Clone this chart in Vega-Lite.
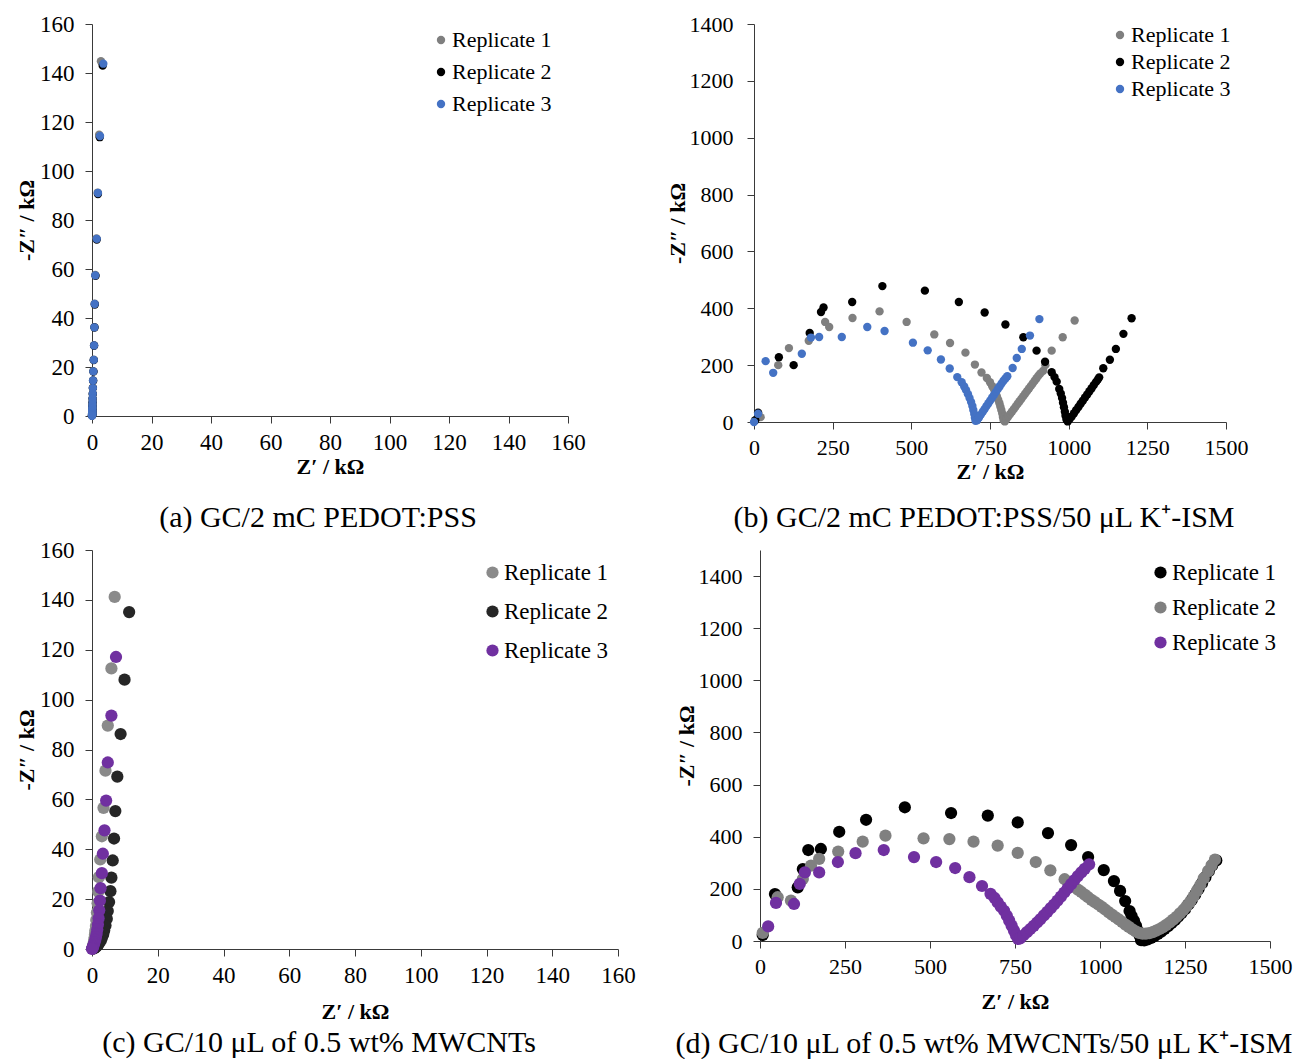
{
  "$schema": "https://vega.github.io/schema/vega-lite/v6.json",
  "background": "white",
  "padding": {"left": 15, "top": 13, "right": 2, "bottom": 0},
  "config": {
    "font": "Liberation Serif",
    "view": {"stroke": null},
    "axis": {
      "grid": false,
      "domainColor": "#3a3a3a",
      "tickColor": "#3a3a3a",
      "labelColor": "#000000",
      "titleColor": "#000000",
      "labelFont": "Liberation Serif",
      "titleFont": "Liberation Serif",
      "labelFontSize": 22,
      "titleFontSize": 22,
      "titleFontWeight": "bold",
      "tickSize": 7,
      "format": "d",
      "labelFlush": false,
      "labelOverlap": false
    },
    "legend": {
      "labelFont": "Liberation Serif",
      "labelColor": "#000000",
      "symbolType": "circle",
      "symbolStrokeWidth": 0
    },
    "title": {"font": "Liberation Serif", "color": "#000000", "fontWeight": "normal"}
  },
  "datasets": {
    "pa": [
      {"r": "Replicate 1", "x": 3.0, "y": 144.8}, {"r": "Replicate 1", "x": 2.4, "y": 114.8}, {"r": "Replicate 1", "x": 1.9, "y": 91.2}, {"r": "Replicate 1", "x": 1.5, "y": 72.5}, {"r": "Replicate 1", "x": 1.1, "y": 57.6}, {"r": "Replicate 1", "x": 0.9, "y": 45.8}, {"r": "Replicate 1", "x": 0.8, "y": 36.3}, {"r": "Replicate 1", "x": 0.7, "y": 28.9}, {"r": "Replicate 1", "x": 0.6, "y": 23.0}, {"r": "Replicate 1", "x": 0.45, "y": 18.3}, {"r": "Replicate 1", "x": 0.35, "y": 14.5}, {"r": "Replicate 1", "x": 0.3, "y": 11.5}, {"r": "Replicate 1", "x": 0.25, "y": 9.1}, {"r": "Replicate 1", "x": 0.2, "y": 7.2}, {"r": "Replicate 1", "x": 0.2, "y": 5.7}, {"r": "Replicate 1", "x": 0.15, "y": 4.5}, {"r": "Replicate 1", "x": 0.15, "y": 3.6}, {"r": "Replicate 1", "x": 0.1, "y": 2.8}, {"r": "Replicate 1", "x": 0.1, "y": 2.2}, {"r": "Replicate 1", "x": 0.1, "y": 1.7}, {"r": "Replicate 1", "x": 0.1, "y": 1.3}, {"r": "Replicate 1", "x": 0.05, "y": 1.0}, {"r": "Replicate 1", "x": 0.05, "y": 0.7}, {"r": "Replicate 1", "x": 0.05, "y": 0.5}, {"r": "Replicate 1", "x": 0.03, "y": 0.3}, {"r": "Replicate 1", "x": 0.02, "y": 0.15},
      {"r": "Replicate 2", "x": 3.6, "y": 143.0}, {"r": "Replicate 2", "x": 2.6, "y": 113.8}, {"r": "Replicate 2", "x": 2.0, "y": 90.6}, {"r": "Replicate 2", "x": 1.6, "y": 72.0}, {"r": "Replicate 2", "x": 1.2, "y": 57.2}, {"r": "Replicate 2", "x": 0.95, "y": 45.5}, {"r": "Replicate 2", "x": 0.85, "y": 36.1}, {"r": "Replicate 2", "x": 0.7, "y": 28.7}, {"r": "Replicate 2", "x": 0.6, "y": 22.8}, {"r": "Replicate 2", "x": 0.5, "y": 18.1}, {"r": "Replicate 2", "x": 0.4, "y": 14.4}, {"r": "Replicate 2", "x": 0.3, "y": 11.4}, {"r": "Replicate 2", "x": 0.25, "y": 9.0}, {"r": "Replicate 2", "x": 0.2, "y": 7.1}, {"r": "Replicate 2", "x": 0.2, "y": 5.6}, {"r": "Replicate 2", "x": 0.15, "y": 4.4}, {"r": "Replicate 2", "x": 0.15, "y": 3.5}, {"r": "Replicate 2", "x": 0.1, "y": 2.8}, {"r": "Replicate 2", "x": 0.1, "y": 2.2}, {"r": "Replicate 2", "x": 0.1, "y": 1.7}, {"r": "Replicate 2", "x": 0.1, "y": 1.3}, {"r": "Replicate 2", "x": 0.05, "y": 1.0}, {"r": "Replicate 2", "x": 0.05, "y": 0.7}, {"r": "Replicate 2", "x": 0.05, "y": 0.5}, {"r": "Replicate 2", "x": 0.03, "y": 0.3}, {"r": "Replicate 2", "x": 0.02, "y": 0.15},
      {"r": "Replicate 3", "x": 3.8, "y": 143.8}, {"r": "Replicate 3", "x": 2.7, "y": 114.3}, {"r": "Replicate 3", "x": 2.0, "y": 91.0}, {"r": "Replicate 3", "x": 1.6, "y": 72.3}, {"r": "Replicate 3", "x": 1.1, "y": 57.4}, {"r": "Replicate 3", "x": 0.9, "y": 45.7}, {"r": "Replicate 3", "x": 0.8, "y": 36.2}, {"r": "Replicate 3", "x": 0.7, "y": 28.8}, {"r": "Replicate 3", "x": 0.6, "y": 22.9}, {"r": "Replicate 3", "x": 0.45, "y": 18.2}, {"r": "Replicate 3", "x": 0.35, "y": 14.5}, {"r": "Replicate 3", "x": 0.3, "y": 11.4}, {"r": "Replicate 3", "x": 0.25, "y": 9.1}, {"r": "Replicate 3", "x": 0.2, "y": 7.2}, {"r": "Replicate 3", "x": 0.2, "y": 5.7}, {"r": "Replicate 3", "x": 0.15, "y": 4.5}, {"r": "Replicate 3", "x": 0.15, "y": 3.6}, {"r": "Replicate 3", "x": 0.1, "y": 2.9}, {"r": "Replicate 3", "x": 0.1, "y": 2.3}, {"r": "Replicate 3", "x": 0.1, "y": 1.8}, {"r": "Replicate 3", "x": 0.1, "y": 1.4}, {"r": "Replicate 3", "x": 0.05, "y": 1.1}, {"r": "Replicate 3", "x": 0.05, "y": 0.9}, {"r": "Replicate 3", "x": 0.05, "y": 0.7}, {"r": "Replicate 3", "x": 0.05, "y": 0.5}, {"r": "Replicate 3", "x": 0.03, "y": 0.35}, {"r": "Replicate 3", "x": 0.02, "y": 0.2}, {"r": "Replicate 3", "x": 0.0, "y": 0.1}
    ],
    "pb": [
      {"r": "Replicate 1", "x": 21, "y": 17}, {"r": "Replicate 1", "x": 77, "y": 200}, {"r": "Replicate 1", "x": 111, "y": 260}, {"r": "Replicate 1", "x": 174, "y": 286}, {"r": "Replicate 1", "x": 226, "y": 352}, {"r": "Replicate 1", "x": 239, "y": 334}, {"r": "Replicate 1", "x": 313, "y": 366}, {"r": "Replicate 1", "x": 399, "y": 389}, {"r": "Replicate 1", "x": 485, "y": 352}, {"r": "Replicate 1", "x": 573, "y": 308}, {"r": "Replicate 1", "x": 623, "y": 278}, {"r": "Replicate 1", "x": 672, "y": 244}, {"r": "Replicate 1", "x": 702, "y": 202}, {"r": "Replicate 1", "x": 723, "y": 174}, {"r": "Replicate 1", "x": 740, "y": 155}, {"r": "Replicate 1", "x": 750, "y": 140}, {"r": "Replicate 1", "x": 757, "y": 126}, {"r": "Replicate 1", "x": 763, "y": 114}, {"r": "Replicate 1", "x": 768, "y": 102}, {"r": "Replicate 1", "x": 772, "y": 90}, {"r": "Replicate 1", "x": 776, "y": 78}, {"r": "Replicate 1", "x": 780, "y": 66}, {"r": "Replicate 1", "x": 783, "y": 54}, {"r": "Replicate 1", "x": 786, "y": 42}, {"r": "Replicate 1", "x": 789, "y": 30}, {"r": "Replicate 1", "x": 791, "y": 18}, {"r": "Replicate 1", "x": 793, "y": 7}, {"r": "Replicate 1", "x": 797, "y": 2}, {"r": "Replicate 1", "x": 802, "y": 10}, {"r": "Replicate 1", "x": 808, "y": 19}, {"r": "Replicate 1", "x": 814, "y": 28}, {"r": "Replicate 1", "x": 820, "y": 37}, {"r": "Replicate 1", "x": 826, "y": 46}, {"r": "Replicate 1", "x": 832, "y": 55}, {"r": "Replicate 1", "x": 838, "y": 64}, {"r": "Replicate 1", "x": 844, "y": 73}, {"r": "Replicate 1", "x": 850, "y": 82}, {"r": "Replicate 1", "x": 856, "y": 91}, {"r": "Replicate 1", "x": 862, "y": 100}, {"r": "Replicate 1", "x": 868, "y": 109}, {"r": "Replicate 1", "x": 874, "y": 118}, {"r": "Replicate 1", "x": 880, "y": 127}, {"r": "Replicate 1", "x": 886, "y": 136}, {"r": "Replicate 1", "x": 892, "y": 145}, {"r": "Replicate 1", "x": 898, "y": 154}, {"r": "Replicate 1", "x": 904, "y": 163}, {"r": "Replicate 1", "x": 910, "y": 171}, {"r": "Replicate 1", "x": 919, "y": 180}, {"r": "Replicate 1", "x": 926, "y": 200}, {"r": "Replicate 1", "x": 946, "y": 251}, {"r": "Replicate 1", "x": 981, "y": 298}, {"r": "Replicate 1", "x": 1019, "y": 357},
      {"r": "Replicate 2", "x": 4, "y": 6}, {"r": "Replicate 2", "x": 13, "y": 33}, {"r": "Replicate 2", "x": 79, "y": 228}, {"r": "Replicate 2", "x": 126, "y": 200}, {"r": "Replicate 2", "x": 177, "y": 313}, {"r": "Replicate 2", "x": 213, "y": 387}, {"r": "Replicate 2", "x": 221, "y": 403}, {"r": "Replicate 2", "x": 312, "y": 422}, {"r": "Replicate 2", "x": 408, "y": 478}, {"r": "Replicate 2", "x": 543, "y": 462}, {"r": "Replicate 2", "x": 651, "y": 422}, {"r": "Replicate 2", "x": 733, "y": 385}, {"r": "Replicate 2", "x": 799, "y": 343}, {"r": "Replicate 2", "x": 856, "y": 298}, {"r": "Replicate 2", "x": 898, "y": 251}, {"r": "Replicate 2", "x": 925, "y": 212}, {"r": "Replicate 2", "x": 946, "y": 175}, {"r": "Replicate 2", "x": 955, "y": 158}, {"r": "Replicate 2", "x": 962, "y": 142}, {"r": "Replicate 2", "x": 970, "y": 116}, {"r": "Replicate 2", "x": 975, "y": 100}, {"r": "Replicate 2", "x": 979, "y": 84}, {"r": "Replicate 2", "x": 982, "y": 68}, {"r": "Replicate 2", "x": 985, "y": 52}, {"r": "Replicate 2", "x": 988, "y": 36}, {"r": "Replicate 2", "x": 990, "y": 22}, {"r": "Replicate 2", "x": 993, "y": 9}, {"r": "Replicate 2", "x": 997, "y": 2}, {"r": "Replicate 2", "x": 1003, "y": 10}, {"r": "Replicate 2", "x": 1010, "y": 20}, {"r": "Replicate 2", "x": 1017, "y": 31}, {"r": "Replicate 2", "x": 1024, "y": 42}, {"r": "Replicate 2", "x": 1031, "y": 53}, {"r": "Replicate 2", "x": 1038, "y": 64}, {"r": "Replicate 2", "x": 1045, "y": 75}, {"r": "Replicate 2", "x": 1052, "y": 86}, {"r": "Replicate 2", "x": 1059, "y": 97}, {"r": "Replicate 2", "x": 1066, "y": 108}, {"r": "Replicate 2", "x": 1073, "y": 119}, {"r": "Replicate 2", "x": 1080, "y": 130}, {"r": "Replicate 2", "x": 1087, "y": 141}, {"r": "Replicate 2", "x": 1093, "y": 150}, {"r": "Replicate 2", "x": 1097, "y": 157}, {"r": "Replicate 2", "x": 1110, "y": 189}, {"r": "Replicate 2", "x": 1131, "y": 219}, {"r": "Replicate 2", "x": 1150, "y": 257}, {"r": "Replicate 2", "x": 1174, "y": 310}, {"r": "Replicate 2", "x": 1200, "y": 365},
      {"r": "Replicate 3", "x": 0, "y": 0}, {"r": "Replicate 3", "x": 13, "y": 29}, {"r": "Replicate 3", "x": 37, "y": 214}, {"r": "Replicate 3", "x": 61, "y": 173}, {"r": "Replicate 3", "x": 152, "y": 240}, {"r": "Replicate 3", "x": 181, "y": 297}, {"r": "Replicate 3", "x": 207, "y": 299}, {"r": "Replicate 3", "x": 279, "y": 299}, {"r": "Replicate 3", "x": 360, "y": 334}, {"r": "Replicate 3", "x": 415, "y": 320}, {"r": "Replicate 3", "x": 505, "y": 279}, {"r": "Replicate 3", "x": 552, "y": 252}, {"r": "Replicate 3", "x": 594, "y": 220}, {"r": "Replicate 3", "x": 622, "y": 188}, {"r": "Replicate 3", "x": 646, "y": 158}, {"r": "Replicate 3", "x": 660, "y": 140}, {"r": "Replicate 3", "x": 668, "y": 125}, {"r": "Replicate 3", "x": 674, "y": 112}, {"r": "Replicate 3", "x": 680, "y": 98}, {"r": "Replicate 3", "x": 685, "y": 84}, {"r": "Replicate 3", "x": 690, "y": 70}, {"r": "Replicate 3", "x": 694, "y": 56}, {"r": "Replicate 3", "x": 697, "y": 42}, {"r": "Replicate 3", "x": 700, "y": 28}, {"r": "Replicate 3", "x": 702, "y": 15}, {"r": "Replicate 3", "x": 704, "y": 4}, {"r": "Replicate 3", "x": 709, "y": 6}, {"r": "Replicate 3", "x": 715, "y": 16}, {"r": "Replicate 3", "x": 721, "y": 26}, {"r": "Replicate 3", "x": 727, "y": 36}, {"r": "Replicate 3", "x": 733, "y": 46}, {"r": "Replicate 3", "x": 739, "y": 56}, {"r": "Replicate 3", "x": 745, "y": 66}, {"r": "Replicate 3", "x": 751, "y": 76}, {"r": "Replicate 3", "x": 757, "y": 86}, {"r": "Replicate 3", "x": 763, "y": 96}, {"r": "Replicate 3", "x": 769, "y": 106}, {"r": "Replicate 3", "x": 775, "y": 116}, {"r": "Replicate 3", "x": 781, "y": 126}, {"r": "Replicate 3", "x": 787, "y": 136}, {"r": "Replicate 3", "x": 793, "y": 145}, {"r": "Replicate 3", "x": 799, "y": 153}, {"r": "Replicate 3", "x": 805, "y": 161}, {"r": "Replicate 3", "x": 822, "y": 190}, {"r": "Replicate 3", "x": 835, "y": 225}, {"r": "Replicate 3", "x": 851, "y": 257}, {"r": "Replicate 3", "x": 877, "y": 304}, {"r": "Replicate 3", "x": 907, "y": 362}
    ],
    "pc": [
      {"r": "Replicate 1", "x": 6.9, "y": 141.2}, {"r": "Replicate 1", "x": 5.9, "y": 112.5}, {"r": "Replicate 1", "x": 4.8, "y": 89.6}, {"r": "Replicate 1", "x": 4.1, "y": 71.5}, {"r": "Replicate 1", "x": 3.5, "y": 56.6}, {"r": "Replicate 1", "x": 3.0, "y": 45.2}, {"r": "Replicate 1", "x": 2.5, "y": 35.9}, {"r": "Replicate 1", "x": 2.1, "y": 28.8}, {"r": "Replicate 1", "x": 1.9, "y": 23.0}, {"r": "Replicate 1", "x": 1.7, "y": 18.3}, {"r": "Replicate 1", "x": 1.5, "y": 14.6}, {"r": "Replicate 1", "x": 1.3, "y": 11.6}, {"r": "Replicate 1", "x": 1.2, "y": 9.2}, {"r": "Replicate 1", "x": 1.0, "y": 7.3}, {"r": "Replicate 1", "x": 0.9, "y": 5.8}, {"r": "Replicate 1", "x": 0.8, "y": 4.6}, {"r": "Replicate 1", "x": 0.7, "y": 3.6}, {"r": "Replicate 1", "x": 0.6, "y": 2.8}, {"r": "Replicate 1", "x": 0.5, "y": 2.1}, {"r": "Replicate 1", "x": 0.4, "y": 1.5}, {"r": "Replicate 1", "x": 0.3, "y": 1.0}, {"r": "Replicate 1", "x": 0.2, "y": 0.6}, {"r": "Replicate 1", "x": 0.1, "y": 0.3},
      {"r": "Replicate 2", "x": 11.3, "y": 135.1}, {"r": "Replicate 2", "x": 9.9, "y": 108.0}, {"r": "Replicate 2", "x": 8.7, "y": 86.2}, {"r": "Replicate 2", "x": 7.7, "y": 69.1}, {"r": "Replicate 2", "x": 7.1, "y": 55.3}, {"r": "Replicate 2", "x": 6.7, "y": 44.3}, {"r": "Replicate 2", "x": 6.3, "y": 35.5}, {"r": "Replicate 2", "x": 5.9, "y": 28.6}, {"r": "Replicate 2", "x": 5.6, "y": 23.2}, {"r": "Replicate 2", "x": 5.2, "y": 18.8}, {"r": "Replicate 2", "x": 4.8, "y": 15.2}, {"r": "Replicate 2", "x": 4.5, "y": 12.1}, {"r": "Replicate 2", "x": 4.1, "y": 9.4}, {"r": "Replicate 2", "x": 3.7, "y": 7.4}, {"r": "Replicate 2", "x": 3.4, "y": 5.8}, {"r": "Replicate 2", "x": 3.0, "y": 4.5}, {"r": "Replicate 2", "x": 2.7, "y": 3.5}, {"r": "Replicate 2", "x": 2.3, "y": 2.7}, {"r": "Replicate 2", "x": 2.0, "y": 2.0}, {"r": "Replicate 2", "x": 1.7, "y": 1.5}, {"r": "Replicate 2", "x": 1.4, "y": 1.1}, {"r": "Replicate 2", "x": 1.1, "y": 0.7}, {"r": "Replicate 2", "x": 0.8, "y": 0.4}, {"r": "Replicate 2", "x": 0.5, "y": 0.2},
      {"r": "Replicate 3", "x": 7.3, "y": 117.1}, {"r": "Replicate 3", "x": 5.9, "y": 93.6}, {"r": "Replicate 3", "x": 4.8, "y": 74.8}, {"r": "Replicate 3", "x": 4.3, "y": 59.5}, {"r": "Replicate 3", "x": 3.8, "y": 47.6}, {"r": "Replicate 3", "x": 3.3, "y": 38.2}, {"r": "Replicate 3", "x": 3.0, "y": 30.4}, {"r": "Replicate 3", "x": 2.6, "y": 24.4}, {"r": "Replicate 3", "x": 2.4, "y": 19.4}, {"r": "Replicate 3", "x": 2.2, "y": 15.5}, {"r": "Replicate 3", "x": 2.0, "y": 12.3}, {"r": "Replicate 3", "x": 1.8, "y": 9.8}, {"r": "Replicate 3", "x": 1.6, "y": 7.8}, {"r": "Replicate 3", "x": 1.4, "y": 6.1}, {"r": "Replicate 3", "x": 1.2, "y": 4.8}, {"r": "Replicate 3", "x": 1.0, "y": 3.7}, {"r": "Replicate 3", "x": 0.8, "y": 2.8}, {"r": "Replicate 3", "x": 0.6, "y": 2.0}, {"r": "Replicate 3", "x": 0.45, "y": 1.4}, {"r": "Replicate 3", "x": 0.3, "y": 0.9}, {"r": "Replicate 3", "x": 0.2, "y": 0.5}, {"r": "Replicate 3", "x": 0.1, "y": 0.2}, {"r": "Replicate 3", "x": 0.0, "y": 0.0}
    ],
    "pd": [
      {"r": "Replicate 1", "x": 8, "y": 23}, {"r": "Replicate 1", "x": 44, "y": 180}, {"r": "Replicate 1", "x": 111, "y": 206}, {"r": "Replicate 1", "x": 126, "y": 276}, {"r": "Replicate 1", "x": 142, "y": 349}, {"r": "Replicate 1", "x": 179, "y": 353}, {"r": "Replicate 1", "x": 233, "y": 419}, {"r": "Replicate 1", "x": 312, "y": 465}, {"r": "Replicate 1", "x": 426, "y": 513}, {"r": "Replicate 1", "x": 562, "y": 491}, {"r": "Replicate 1", "x": 670, "y": 481}, {"r": "Replicate 1", "x": 758, "y": 455}, {"r": "Replicate 1", "x": 847, "y": 414}, {"r": "Replicate 1", "x": 915, "y": 368}, {"r": "Replicate 1", "x": 965, "y": 322}, {"r": "Replicate 1", "x": 1011, "y": 272}, {"r": "Replicate 1", "x": 1041, "y": 230}, {"r": "Replicate 1", "x": 1059, "y": 192}, {"r": "Replicate 1", "x": 1074, "y": 153}, {"r": "Replicate 1", "x": 1087, "y": 115}, {"r": "Replicate 1", "x": 1093, "y": 96}, {"r": "Replicate 1", "x": 1100, "y": 77}, {"r": "Replicate 1", "x": 1106, "y": 58}, {"r": "Replicate 1", "x": 1112, "y": 38}, {"r": "Replicate 1", "x": 1117, "y": 19}, {"r": "Replicate 1", "x": 1121, "y": 3}, {"r": "Replicate 1", "x": 1130, "y": 2}, {"r": "Replicate 1", "x": 1140, "y": 6}, {"r": "Replicate 1", "x": 1150, "y": 12}, {"r": "Replicate 1", "x": 1160, "y": 19}, {"r": "Replicate 1", "x": 1170, "y": 27}, {"r": "Replicate 1", "x": 1180, "y": 36}, {"r": "Replicate 1", "x": 1190, "y": 46}, {"r": "Replicate 1", "x": 1200, "y": 57}, {"r": "Replicate 1", "x": 1210, "y": 68}, {"r": "Replicate 1", "x": 1220, "y": 80}, {"r": "Replicate 1", "x": 1230, "y": 93}, {"r": "Replicate 1", "x": 1240, "y": 107}, {"r": "Replicate 1", "x": 1250, "y": 122}, {"r": "Replicate 1", "x": 1260, "y": 140}, {"r": "Replicate 1", "x": 1270, "y": 158}, {"r": "Replicate 1", "x": 1280, "y": 178}, {"r": "Replicate 1", "x": 1290, "y": 200}, {"r": "Replicate 1", "x": 1300, "y": 222}, {"r": "Replicate 1", "x": 1310, "y": 245}, {"r": "Replicate 1", "x": 1320, "y": 268}, {"r": "Replicate 1", "x": 1330, "y": 290}, {"r": "Replicate 1", "x": 1342, "y": 309},
      {"r": "Replicate 2", "x": 8, "y": 31}, {"r": "Replicate 2", "x": 52, "y": 168}, {"r": "Replicate 2", "x": 91, "y": 155}, {"r": "Replicate 2", "x": 126, "y": 238}, {"r": "Replicate 2", "x": 150, "y": 289}, {"r": "Replicate 2", "x": 174, "y": 315}, {"r": "Replicate 2", "x": 230, "y": 343}, {"r": "Replicate 2", "x": 302, "y": 381}, {"r": "Replicate 2", "x": 369, "y": 404}, {"r": "Replicate 2", "x": 481, "y": 394}, {"r": "Replicate 2", "x": 557, "y": 391}, {"r": "Replicate 2", "x": 628, "y": 381}, {"r": "Replicate 2", "x": 699, "y": 366}, {"r": "Replicate 2", "x": 758, "y": 338}, {"r": "Replicate 2", "x": 811, "y": 303}, {"r": "Replicate 2", "x": 854, "y": 271}, {"r": "Replicate 2", "x": 896, "y": 237}, {"r": "Replicate 2", "x": 905, "y": 228}, {"r": "Replicate 2", "x": 915, "y": 218}, {"r": "Replicate 2", "x": 925, "y": 207}, {"r": "Replicate 2", "x": 935, "y": 197}, {"r": "Replicate 2", "x": 945, "y": 188}, {"r": "Replicate 2", "x": 955, "y": 178}, {"r": "Replicate 2", "x": 965, "y": 168}, {"r": "Replicate 2", "x": 975, "y": 158}, {"r": "Replicate 2", "x": 985, "y": 149}, {"r": "Replicate 2", "x": 995, "y": 140}, {"r": "Replicate 2", "x": 1005, "y": 131}, {"r": "Replicate 2", "x": 1015, "y": 121}, {"r": "Replicate 2", "x": 1025, "y": 111}, {"r": "Replicate 2", "x": 1035, "y": 101}, {"r": "Replicate 2", "x": 1045, "y": 92}, {"r": "Replicate 2", "x": 1055, "y": 83}, {"r": "Replicate 2", "x": 1065, "y": 73}, {"r": "Replicate 2", "x": 1075, "y": 63}, {"r": "Replicate 2", "x": 1085, "y": 54}, {"r": "Replicate 2", "x": 1095, "y": 45}, {"r": "Replicate 2", "x": 1105, "y": 37}, {"r": "Replicate 2", "x": 1115, "y": 31}, {"r": "Replicate 2", "x": 1125, "y": 28}, {"r": "Replicate 2", "x": 1135, "y": 28}, {"r": "Replicate 2", "x": 1145, "y": 30}, {"r": "Replicate 2", "x": 1155, "y": 34}, {"r": "Replicate 2", "x": 1165, "y": 40}, {"r": "Replicate 2", "x": 1175, "y": 46}, {"r": "Replicate 2", "x": 1185, "y": 53}, {"r": "Replicate 2", "x": 1195, "y": 62}, {"r": "Replicate 2", "x": 1205, "y": 71}, {"r": "Replicate 2", "x": 1215, "y": 82}, {"r": "Replicate 2", "x": 1225, "y": 93}, {"r": "Replicate 2", "x": 1235, "y": 106}, {"r": "Replicate 2", "x": 1245, "y": 119}, {"r": "Replicate 2", "x": 1255, "y": 134}, {"r": "Replicate 2", "x": 1265, "y": 150}, {"r": "Replicate 2", "x": 1275, "y": 170}, {"r": "Replicate 2", "x": 1285, "y": 192}, {"r": "Replicate 2", "x": 1295, "y": 215}, {"r": "Replicate 2", "x": 1305, "y": 240}, {"r": "Replicate 2", "x": 1318, "y": 268}, {"r": "Replicate 2", "x": 1328, "y": 290}, {"r": "Replicate 2", "x": 1338, "y": 312},
      {"r": "Replicate 3", "x": 24, "y": 56}, {"r": "Replicate 3", "x": 47, "y": 146}, {"r": "Replicate 3", "x": 100, "y": 142}, {"r": "Replicate 3", "x": 117, "y": 219}, {"r": "Replicate 3", "x": 132, "y": 263}, {"r": "Replicate 3", "x": 174, "y": 263}, {"r": "Replicate 3", "x": 229, "y": 303}, {"r": "Replicate 3", "x": 281, "y": 337}, {"r": "Replicate 3", "x": 364, "y": 349}, {"r": "Replicate 3", "x": 453, "y": 322}, {"r": "Replicate 3", "x": 518, "y": 303}, {"r": "Replicate 3", "x": 574, "y": 280}, {"r": "Replicate 3", "x": 616, "y": 245}, {"r": "Replicate 3", "x": 653, "y": 211}, {"r": "Replicate 3", "x": 678, "y": 181}, {"r": "Replicate 3", "x": 690, "y": 165}, {"r": "Replicate 3", "x": 699, "y": 148}, {"r": "Replicate 3", "x": 708, "y": 132}, {"r": "Replicate 3", "x": 718, "y": 116}, {"r": "Replicate 3", "x": 726, "y": 97}, {"r": "Replicate 3", "x": 733, "y": 78}, {"r": "Replicate 3", "x": 740, "y": 59}, {"r": "Replicate 3", "x": 747, "y": 40}, {"r": "Replicate 3", "x": 753, "y": 22}, {"r": "Replicate 3", "x": 759, "y": 8}, {"r": "Replicate 3", "x": 765, "y": 10}, {"r": "Replicate 3", "x": 775, "y": 22}, {"r": "Replicate 3", "x": 785, "y": 34}, {"r": "Replicate 3", "x": 795, "y": 46}, {"r": "Replicate 3", "x": 805, "y": 58}, {"r": "Replicate 3", "x": 815, "y": 71}, {"r": "Replicate 3", "x": 825, "y": 84}, {"r": "Replicate 3", "x": 835, "y": 98}, {"r": "Replicate 3", "x": 845, "y": 112}, {"r": "Replicate 3", "x": 855, "y": 126}, {"r": "Replicate 3", "x": 865, "y": 140}, {"r": "Replicate 3", "x": 875, "y": 155}, {"r": "Replicate 3", "x": 885, "y": 170}, {"r": "Replicate 3", "x": 895, "y": 186}, {"r": "Replicate 3", "x": 905, "y": 202}, {"r": "Replicate 3", "x": 915, "y": 218}, {"r": "Replicate 3", "x": 925, "y": 234}, {"r": "Replicate 3", "x": 935, "y": 249}, {"r": "Replicate 3", "x": 945, "y": 263}, {"r": "Replicate 3", "x": 955, "y": 277}, {"r": "Replicate 3", "x": 968, "y": 294}
    ]
  },
  "spacing": 6,
  "resolve": {"scale": {"color": "independent"}, "legend": {"color": "independent"}},
  "vconcat": [
    {
      "bounds": "flush",
      "spacing": 186,
      "resolve": {"scale": {"color": "independent"}, "legend": {"color": "independent"}},
      "hconcat": [
        {
          "width": 476,
          "height": 392,
          "data": {"name": "pa"},
          "title": {"text": "(a) GC/2 mC PEDOT:PSS", "orient": "bottom", "fontSize": 30, "offset": 26, "frame": "group", "dx": -12},
          "mark": {"type": "point", "filled": true, "opacity": 1, "size": 70},
          "encoding": {
            "x": {"field": "x", "type": "quantitative", "scale": {"domain": [0, 160], "nice": false},
                  "axis": {"values": [0, 20, 40, 60, 80, 100, 120, 140, 160], "title": "Z′ / kΩ", "labelFontSize": 23, "labelPadding": 8, "titlePadding": 2}},
            "y": {"field": "y", "type": "quantitative", "scale": {"domain": [0, 160], "nice": false},
                  "axis": {"values": [0, 20, 40, 60, 80, 100, 120, 140, 160], "title": "-Z″ / kΩ", "labelFontSize": 23, "labelPadding": 11, "titlePadding": 1}},
            "color": {"field": "r", "type": "nominal",
                      "scale": {"domain": ["Replicate 1", "Replicate 2", "Replicate 3"], "range": ["#7f7f7f", "#000000", "#4472c4"]},
                      "legend": {"title": null, "orient": "none", "legendX": 338, "legendY": 5, "symbolSize": 70, "labelFontSize": 22, "rowPadding": 10, "labelOffset": 0}}
          }
        },
        {
          "width": 472,
          "height": 398,
          "data": {"name": "pb"},
          "title": {"text": "(b) GC/2 mC PEDOT:PSS/50 μL K⁺-ISM", "orient": "bottom", "fontSize": 30, "offset": 21, "frame": "group", "dx": -6},
          "mark": {"type": "point", "filled": true, "opacity": 1, "size": 70},
          "encoding": {
            "x": {"field": "x", "type": "quantitative", "scale": {"domain": [0, 1500], "nice": false},
                  "axis": {"values": [0, 250, 500, 750, 1000, 1250, 1500], "title": "Z′ / kΩ", "labelPadding": 8, "titlePadding": 3}},
            "y": {"field": "y", "type": "quantitative", "scale": {"domain": [0, 1400], "nice": false},
                  "axis": {"values": [0, 200, 400, 600, 800, 1000, 1200, 1400], "title": "-Z″ / kΩ", "labelPadding": 14, "titlePadding": 0}},
            "color": {"field": "r", "type": "nominal",
                      "scale": {"domain": ["Replicate 1", "Replicate 2", "Replicate 3"], "range": ["#7f7f7f", "#000000", "#4472c4"]},
                      "legend": {"title": null, "orient": "none", "legendX": 355, "legendY": 0, "symbolSize": 70, "labelFontSize": 22, "rowPadding": 5, "labelOffset": 0}}
          }
        }
      ]
    },
    {
      "bounds": "flush",
      "spacing": 142,
      "resolve": {"scale": {"color": "independent"}, "legend": {"color": "independent"}},
      "hconcat": [
        {
          "width": 526,
          "height": 399,
          "data": {"name": "pc"},
          "title": {"text": "(c) GC/10 μL of 0.5 wt% MWCNTs", "orient": "bottom", "fontSize": 30, "offset": 6, "frame": "group", "dx": -36},
          "mark": {"type": "point", "filled": true, "opacity": 1, "size": 150},
          "encoding": {
            "x": {"field": "x", "type": "quantitative", "scale": {"domain": [0, 160], "nice": false},
                  "axis": {"values": [0, 20, 40, 60, 80, 100, 120, 140, 160], "title": "Z′ / kΩ", "labelFontSize": 23, "labelPadding": 8, "titlePadding": 14}},
            "y": {"field": "y", "type": "quantitative", "scale": {"domain": [0, 160], "nice": false},
                  "axis": {"values": [0, 20, 40, 60, 80, 100, 120, 140, 160], "title": "-Z″ / kΩ", "labelFontSize": 23, "labelPadding": 11, "titlePadding": 1}},
            "color": {"field": "r", "type": "nominal",
                      "scale": {"domain": ["Replicate 1", "Replicate 2", "Replicate 3"], "range": ["#8a8a8a", "#262626", "#7030a0"]},
                      "legend": {"title": null, "orient": "none", "legendX": 389, "legendY": 11, "symbolSize": 150, "labelFontSize": 23, "rowPadding": 15, "labelOffset": 0}}
          }
        },
        {
          "width": 510,
          "height": 391,
          "data": {"name": "pd"},
          "title": {"text": "(d) GC/10 μL of 0.5 wt% MWCNTs/50 μL K⁺-ISM", "orient": "bottom", "fontSize": 30, "offset": 17, "frame": "group", "dx": -31},
          "mark": {"type": "point", "filled": true, "opacity": 1, "size": 150},
          "encoding": {
            "x": {"field": "x", "type": "quantitative", "scale": {"domain": [0, 1500], "nice": false},
                  "axis": {"values": [0, 250, 500, 750, 1000, 1250, 1500], "title": "Z′ / kΩ", "labelPadding": 8, "titlePadding": 14}},
            "y": {"field": "y", "type": "quantitative", "scale": {"domain": [0, 1500], "nice": false},
                  "axis": {"values": [0, 200, 400, 600, 800, 1000, 1200, 1400], "title": "-Z″ / kΩ", "labelPadding": 11, "titlePadding": 0}},
            "color": {"field": "r", "type": "nominal",
                      "scale": {"domain": ["Replicate 1", "Replicate 2", "Replicate 3"], "range": ["#000000", "#808080", "#7030a0"]},
                      "legend": {"title": null, "orient": "none", "legendX": 389, "legendY": 11, "symbolSize": 150, "labelFontSize": 23, "rowPadding": 11, "labelOffset": 0}}
          }
        }
      ]
    }
  ]
}
